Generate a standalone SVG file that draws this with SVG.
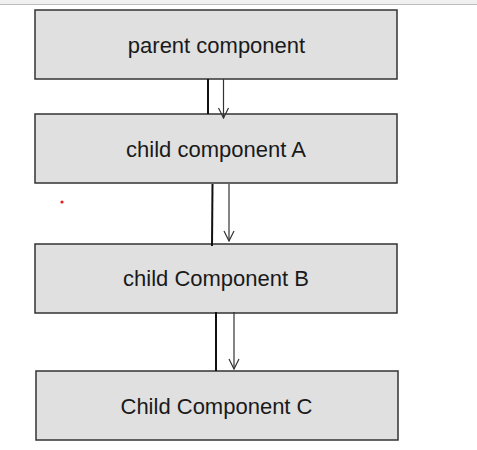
<svg xmlns="http://www.w3.org/2000/svg" width="477" height="450" viewBox="0 0 477 450">
  <style>
    .box { fill: #e0e0e0; stroke: #333; stroke-width: 1.5; }
    .lbl { font-family: "Liberation Sans", Arial, sans-serif; font-size: 22px; fill: #1a1a1a; text-anchor: middle; }
    .bar { stroke: #111; stroke-width: 2; fill: none; }
    .arr { stroke: #333; stroke-width: 1.2; fill: none; marker-end: url(#open); }
  </style>
  <defs>
    <marker id="open" viewBox="0 0 12 12" refX="11" refY="6" markerWidth="12" markerHeight="12" markerUnits="userSpaceOnUse" orient="auto">
      <path d="M1,1 L11,6 L1,11" fill="none" stroke="#333" stroke-width="1.2"/>
    </marker>
  </defs>
  <rect x="0" y="0" width="477" height="4" fill="#f0f0f0"/>
  <line x1="0" y1="4.5" x2="477" y2="4.5" stroke="#bdbdbd" stroke-width="1"/>
  <circle cx="62" cy="202" r="1.6" fill="#e02020"/>
  <g id="parent">
    <rect class="box" x="35" y="10" width="362" height="69"/>
    <text class="lbl" x="216.5" y="53">parent component</text>
  </g>
  <g id="childA">
    <rect class="box" x="35" y="114" width="362" height="69"/>
    <text class="lbl" x="216" y="157">child component A</text>
  </g>
  <g id="childB">
    <rect class="box" x="35" y="244" width="362" height="69"/>
    <text class="lbl" x="216" y="286">child Component B</text>
  </g>
  <g id="childC">
    <rect class="box" x="36" y="371" width="362" height="69"/>
    <text class="lbl" x="216.5" y="414">Child Component C</text>
  </g>
  <g id="connectors">
    <line class="bar" x1="208" y1="79" x2="208" y2="114"/>
    <path class="arr" d="M223.5,79 V118"/>
    <line class="bar" x1="212.5" y1="184" x2="212" y2="246"/>
    <path class="arr" d="M229,184 V241"/>
    <line class="bar" x1="216" y1="312" x2="216" y2="371"/>
    <path class="arr" d="M234,312 V369"/>
  </g>
</svg>
